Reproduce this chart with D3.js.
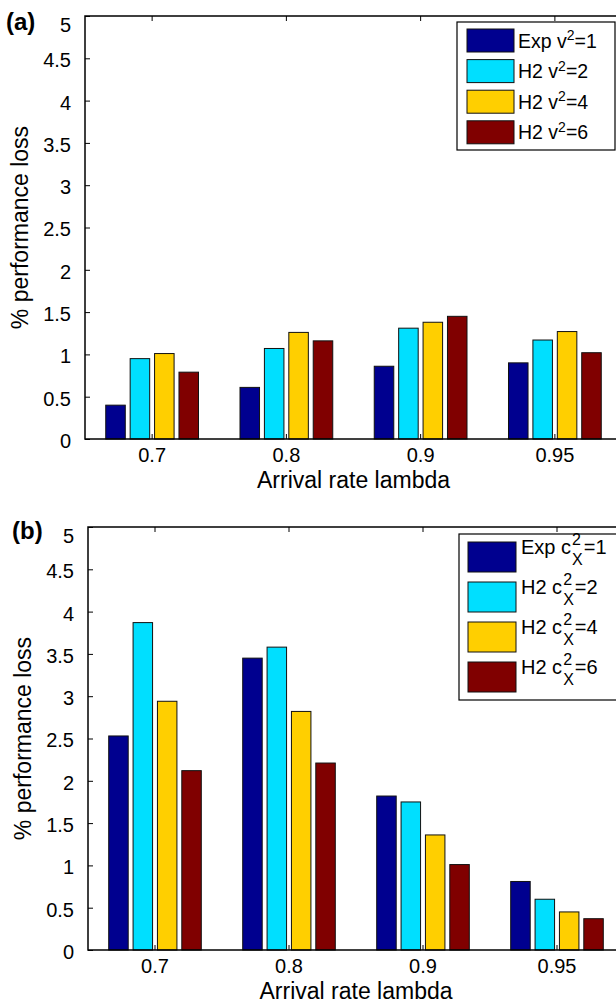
<!DOCTYPE html>
<html>
<head>
<meta charset="utf-8">
<script src="https://cdn.jsdelivr.net/npm/d3@7"></script>
<style>
  body { margin: 0; background: #fff; }
  svg { display: block; font-family: "Liberation Sans", Arial, Helvetica, sans-serif; }
  .tick text { fill: #000; }
  .tick line { stroke: #000; }
</style>
</head>
<body>
<svg id="chart" width="616" height="1005"></svg>
<script>
// arrival rates (x categories)
var categories = ["0.7", "0.8", "0.9", "0.95"];
var yTicks = [0, 0.5, 1, 1.5, 2, 2.5, 3, 3.5, 4, 4.5, 5];

// panel (a): % performance loss per service-time variability
var aExp1 = [0.40, 0.61, 0.86, 0.90];
var aH2v2 = [0.95, 1.07, 1.31, 1.17];
var aH2v4 = [1.01, 1.26, 1.38, 1.27];
var aH2v6 = [0.79, 1.16, 1.45, 1.02];

// panel (b): % performance loss per arrival variability
var bExp1 = [2.53, 3.45, 1.82, 0.81];
var bH2c2 = [3.87, 3.58, 1.75, 0.60];
var bH2c4 = [2.94, 2.82, 1.36, 0.45];
var bH2c6 = [2.12, 2.21, 1.01, 0.37];

var legendPrefix = ["Exp", "H2", "H2", "H2"];
var legendValue = [1, 2, 4, 6];
var seriesColors = ["#00008f", "#00dfff", "#ffcf00", "#800000"];

var TICK_FONT = 20;
var LABEL_FONT = 23;
var TICK_LEN = 5;

var svg = d3.select("#chart");

function drawPanel(p) {
    var g = svg.append("g");
    var series = p.series;

    var x0 = d3.scaleBand()
        .domain(categories)
        .range([p.left, p.right])
        .paddingInner(3 / 11)
        .paddingOuter(1.5 / 11);
    var x1 = d3.scaleBand()
        .domain(d3.range(series.length))
        .range([0, x0.bandwidth()])
        .paddingInner(0.2)
        .paddingOuter(0.1);
    var y = d3.scaleLinear().domain([0, 5]).range([p.bottom, p.top]);

    // Render bars
    for (var s = 0; s < series.length; s++) {
        g.selectAll(".bar-" + s)
            .data(series[s])
            .enter()
            .append("rect")
            .attr("class", "bar-" + s)
            .attr("x", (d, i) => x0(categories[i]) + x1(s))
            .attr("y", d => y(d))
            .attr("width", x1.bandwidth())
            .attr("height", d => y(0) - y(d))
            .attr("fill", seriesColors[s])
            .attr("stroke", "#111")
            .attr("stroke-width", 1);
    }

    // Render axes (ticks pointing inward, matlab style)
    var yAxis = g.append("g")
        .attr("transform", "translate(" + p.left + ",0)")
        .call(d3.axisLeft(y).tickValues(yTicks).tickFormat(d => String(d))
            .tickSizeInner(-TICK_LEN).tickSizeOuter(0).tickPadding(14));
    yAxis.selectAll("text").style("font-size", TICK_FONT + "px").attr("dy", "0.42em");
    // top label sits a bit lower in the original
    yAxis.selectAll(".tick").filter(d => d === 5).select("text").attr("dy", "0.75em");

    g.append("g")
        .attr("transform", "translate(" + p.right + ",0)")
        .call(d3.axisRight(y).tickValues(yTicks).tickFormat("")
            .tickSizeInner(-TICK_LEN).tickSizeOuter(0));

    var xAxis = g.append("g")
        .attr("transform", "translate(0," + p.bottom + ")")
        .call(d3.axisBottom(x0).tickSizeInner(-TICK_LEN).tickSizeOuter(0).tickPadding(9));
    xAxis.selectAll("text").style("font-size", TICK_FONT + "px");

    g.append("g")
        .attr("transform", "translate(0," + p.top + ")")
        .call(d3.axisTop(x0).tickFormat("").tickSizeInner(-TICK_LEN).tickSizeOuter(0));

    g.selectAll(".domain").remove();

    // Box frame
    g.append("rect")
        .attr("x", p.left)
        .attr("y", p.top)
        .attr("width", p.right - p.left)
        .attr("height", p.bottom - p.top)
        .attr("fill", "none")
        .attr("stroke", "#000")
        .attr("stroke-width", 1.5);

    // Axis labels
    g.append("text")
        .attr("x", (p.left + p.right) / 2)
        .attr("y", p.bottom + 49)
        .attr("text-anchor", "middle")
        .style("font-size", LABEL_FONT + "px")
        .text("Arrival rate lambda");

    g.append("text")
        .attr("transform", "translate(" + (p.left - 57) + "," + ((p.top + p.bottom) / 2) + ") rotate(-90)")
        .attr("text-anchor", "middle")
        .style("font-size", LABEL_FONT + "px")
        .text("% performance loss");

    // Panel tag
    g.append("text")
        .attr("x", p.tagX)
        .attr("y", p.tagY)
        .style("font-size", "24px")
        .style("font-weight", "bold")
        .text(p.tag);

    return g;
}

function drawLegendA(g) {
    var L = { x: 457, y: 22, w: 158, h: 128, sx: 467, sy: 29, sw: 47, sh: 23, step: 30.6, tx: 518 };
    g.append("rect")
        .attr("x", L.x).attr("y", L.y).attr("width", L.w).attr("height", L.h)
        .attr("fill", "#fff").attr("stroke", "#000").attr("stroke-width", 1.2);
    for (var i = 0; i < legendPrefix.length; i++) {
        var sy = L.sy + i * L.step;
        var t = g.append("text")
            .attr("x", L.tx)
            .attr("y", sy + L.sh / 2 + 7)
            .style("font-size", "19.5px");
        g.append("rect")
            .attr("x", L.sx).attr("y", sy).attr("width", L.sw).attr("height", L.sh)
            .attr("fill", seriesColors[i]).attr("stroke", "#111").attr("stroke-width", 1);
        t.append("tspan").text(legendPrefix[i] + " v");
        t.append("tspan").attr("dy", -7.5).style("font-size", "14px").text("2");
        t.append("tspan").attr("dy", 7.5).text("=" + legendValue[i]);
    }
}

function drawLegendB(g) {
    var L = { x: 459, y: 534, w: 180, h: 166, sx: 468, sy: 542, sw: 48, sh: 30, step: 40, tx: 521 };
    g.append("rect")
        .attr("x", L.x).attr("y", L.y).attr("width", L.w).attr("height", L.h)
        .attr("fill", "#fff").attr("stroke", "#000").attr("stroke-width", 1.2);
    for (var i = 0; i < legendPrefix.length; i++) {
        var sy = L.sy + i * L.step;
        var base = sy + 11.5;
        g.append("rect")
            .attr("x", L.sx).attr("y", sy).attr("width", L.sw).attr("height", L.sh)
            .attr("fill", seriesColors[i]).attr("stroke", "#111").attr("stroke-width", 1);
        var main = g.append("text")
            .attr("x", L.tx).attr("y", base)
            .style("font-size", "20px")
            .text(legendPrefix[i] + " c");
        var sx = L.tx + main.node().getComputedTextLength() + 1;
        var sup = g.append("text")
            .attr("x", sx).attr("y", base - 8.5)
            .style("font-size", "16px")
            .text("2");
        var sub = g.append("text")
            .attr("x", sx).attr("y", base + 11)
            .style("font-size", "16px")
            .text("X");
        var sw = Math.max(sup.node().getComputedTextLength(), sub.node().getComputedTextLength());
        g.append("text")
            .attr("x", sx + sw + 1).attr("y", base)
            .style("font-size", "20px")
            .text("=" + legendValue[i]);
    }
}

var gA = drawPanel({
    left: 85, right: 622, top: 16, bottom: 439,
    series: [aExp1, aH2v2, aH2v4, aH2v6],
    tag: "(a)", tagX: 6, tagY: 30
});
drawLegendA(gA);

var gB = drawPanel({
    left: 88, right: 624, top: 527, bottom: 950,
    series: [bExp1, bH2c2, bH2c4, bH2c6],
    tag: "(b)", tagX: 12, tagY: 539
});
drawLegendB(gB);
</script>
</body>
</html>
